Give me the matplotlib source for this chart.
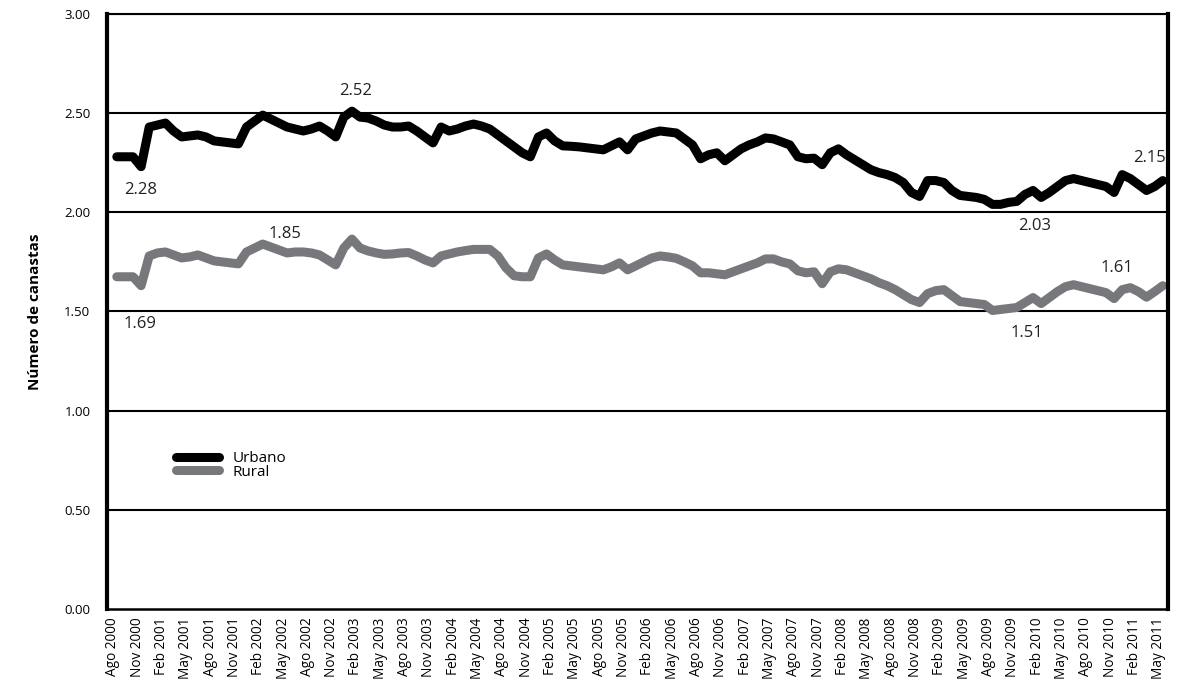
import numpy as np
import matplotlib
matplotlib.use('Agg')
import matplotlib.pyplot as plt

plt.rcParams['font.family'] = ['Open Sans', 'DejaVu Sans']

# monthly values, Ago 2000 .. May 2011
urbano = [2.28, 2.28, 2.28, 2.23, 2.43, 2.44, 2.45, 2.41, 2.38, 2.385,
          2.39, 2.38, 2.36, 2.355, 2.35, 2.345, 2.43, 2.46, 2.49, 2.47,
          2.45, 2.43, 2.42, 2.41, 2.42, 2.435, 2.41, 2.38, 2.48, 2.51,
          2.48, 2.475, 2.46, 2.44, 2.43, 2.43, 2.435, 2.41, 2.38, 2.35,
          2.43, 2.41, 2.42, 2.435, 2.445, 2.435, 2.42, 2.39, 2.36, 2.33,
          2.30, 2.28, 2.38, 2.40, 2.36, 2.335, 2.333, 2.33, 2.325, 2.32,
          2.315, 2.335, 2.355, 2.315, 2.37, 2.385, 2.40, 2.41, 2.405, 2.40,
          2.37, 2.34, 2.27, 2.29, 2.30, 2.26, 2.29, 2.32, 2.34, 2.355,
          2.375, 2.37, 2.355, 2.34, 2.28, 2.27, 2.273, 2.24, 2.30, 2.32,
          2.29, 2.265, 2.24, 2.215, 2.20, 2.19, 2.175, 2.15, 2.10, 2.08,
          2.16, 2.16, 2.15, 2.11, 2.085, 2.08, 2.075, 2.065, 2.04, 2.04,
          2.05, 2.055, 2.09, 2.11, 2.075, 2.10, 2.13, 2.16, 2.17, 2.16,
          2.15, 2.14, 2.13, 2.10, 2.19, 2.17, 2.14, 2.11, 2.13, 2.16]

rural = [1.675, 1.675, 1.675, 1.63, 1.78, 1.795, 1.80, 1.785, 1.77, 1.775,
         1.785, 1.77, 1.755, 1.75, 1.745, 1.74, 1.80, 1.82, 1.84, 1.825,
         1.81, 1.795, 1.80, 1.80, 1.795, 1.785, 1.76, 1.735, 1.82, 1.865,
         1.82, 1.805, 1.795, 1.788, 1.79, 1.795, 1.797, 1.78, 1.76, 1.745,
         1.78, 1.79, 1.80, 1.807, 1.813, 1.813, 1.813, 1.78, 1.72, 1.68,
         1.675, 1.675, 1.77, 1.79, 1.76, 1.735, 1.73, 1.725, 1.72, 1.715,
         1.71, 1.725, 1.745, 1.71, 1.73, 1.75, 1.77, 1.78, 1.775, 1.768,
         1.75, 1.73, 1.695, 1.695, 1.69, 1.685, 1.70, 1.715, 1.73, 1.745,
         1.765, 1.765, 1.75, 1.74, 1.705, 1.695, 1.70, 1.64, 1.70, 1.715,
         1.71, 1.695, 1.68, 1.665, 1.645, 1.63, 1.61, 1.585, 1.56, 1.545,
         1.59, 1.605, 1.61, 1.58, 1.55, 1.545, 1.54, 1.535, 1.505, 1.51,
         1.515, 1.52, 1.545, 1.57, 1.54, 1.57, 1.60, 1.625, 1.635, 1.625,
         1.615, 1.605, 1.595, 1.565, 1.61, 1.62, 1.60, 1.572, 1.60, 1.63]

# tick labels every three months
tick_months = ['Ago', 'Nov', 'Feb', 'May']
first_year = 2000
n_ticks = 44

# annotated values: (text, x index, y position)
notes = [('2.28', 3.0, 2.113), ('2.52', 29.4, 2.612), ('1.85', 20.8, 1.891),
         ('1.69', 2.9, 1.437), ('2.03', 113.2, 1.931), ('1.51', 112.2, 1.392),
         ('2.15', 127.4, 2.275), ('1.61', 123.4, 1.720)]

x = np.arange(len(urbano))
tick_labels = []
for k in range(n_ticks):
    year = first_year + (k * 3 + 7) // 12
    tick_labels.append(f'{tick_months[k % 4]} {year}')

fig = plt.figure(figsize=(11.83, 6.85), dpi=100)
ax = fig.add_axes([0.0905, 0.111, 0.8965, 0.8686])

ax.set_axisbelow(True)
for yv in np.arange(0.5, 3.01, 0.5):
    ax.axhline(yv, color='black', lw=1.5, zorder=1)

ax.plot(x, urbano, color='black', lw=6.5, solid_joinstyle='round',
        solid_capstyle='round', label='Urbano', zorder=3)
ax.plot(x, rural, color='#77787b', lw=6.5, solid_joinstyle='round',
        solid_capstyle='round', label='Rural', zorder=2)

for txt, xv, yv in notes:
    ax.text(xv, yv, txt, ha='center', va='center', fontsize=12, color='#222222')

ax.set_xlim(-1.2, 129.6)
ax.set_ylim(0, 3)
ax.set_yticks(np.arange(0, 3.01, 0.5))
ax.set_yticklabels([f'{v:.2f}' for v in np.arange(0, 3.01, 0.5)], fontsize=9.5)
ax.set_xticks(np.arange(n_ticks) * 3 - 0.5)
ax.set_xticklabels(tick_labels, rotation=90, fontsize=9.8)
ax.tick_params(axis='x', length=0, pad=6)
ax.tick_params(axis='y', length=0, pad=12)

ax.spines['left'].set_linewidth(3)
ax.spines['right'].set_linewidth(3)
ax.spines['bottom'].set_linewidth(1.8)
ax.spines['top'].set_linewidth(1.5)

ax.set_ylabel('Número de canastas', fontsize=11, fontweight='bold', labelpad=16)

ax.legend(loc='center left', bbox_to_anchor=(0.058, 0.241), frameon=False,
          fontsize=11, handlelength=2.8, handletextpad=0.9, labelspacing=-0.1,
          borderpad=0)

fig.savefig('out.png', dpi=100)
